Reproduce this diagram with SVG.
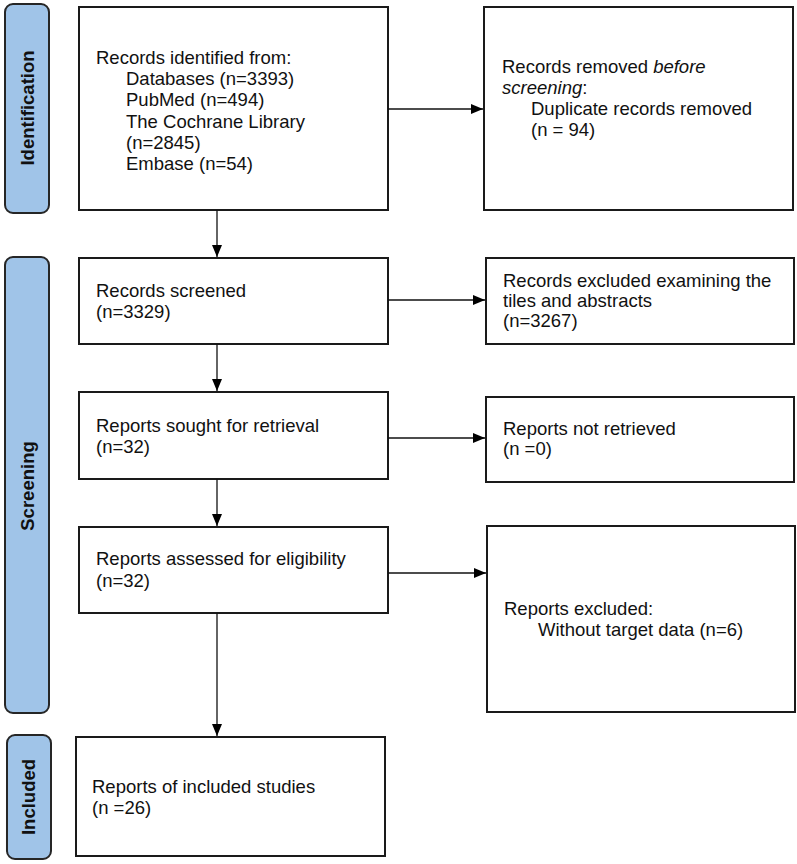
<svg xmlns="http://www.w3.org/2000/svg" width="797" height="864" viewBox="0 0 797 864">
<defs>
<marker id="arr" viewBox="0 0 12 10" refX="12" refY="5" markerWidth="12" markerHeight="10" markerUnits="userSpaceOnUse" orient="auto">
<path d="M0,0 L12,5 L0,10 Z" fill="#000"/>
</marker>
</defs>
<style>
.box{fill:#fff;stroke:#1a1a1a;stroke-width:2}
.tab{fill:#a0c4e8;stroke:#262626;stroke-width:2}
.t{font-family:"Liberation Sans",Arial,sans-serif;font-size:18.5px;fill:#111}
.tt{font-family:"Liberation Sans",Arial,sans-serif;font-size:18.5px;font-weight:bold;fill:#111}
.c{stroke:#111;stroke-width:1.3;fill:none;marker-end:url(#arr)}
</style>
<rect width="797" height="864" fill="#fff"/>
<g id="tab-identification">
<rect class="tab" x="5" y="4" width="44" height="209" rx="8"/>
<text class="tt" transform="translate(34,108) rotate(-90)" text-anchor="middle">Identification</text>
</g>
<g id="tab-screening">
<rect class="tab" x="5" y="257" width="44" height="456" rx="8"/>
<text class="tt" transform="translate(34,486) rotate(-90)" text-anchor="middle">Screening</text>
</g>
<g id="tab-included">
<rect class="tab" x="7" y="735" width="44" height="124" rx="8"/>
<text class="tt" transform="translate(35,797) rotate(-90)" text-anchor="middle">Included</text>
</g>
<g id="identified">
<rect class="box" x="79" y="7" width="309" height="203"/>
<text class="t" x="96" y="63.5">Records identified from:</text>
<text class="t" x="126" y="85">Databases (n=3393)</text>
<text class="t" x="126" y="106">PubMed (n=494)</text>
<text class="t" x="126" y="127.5">The Cochrane Library</text>
<text class="t" x="126" y="149">(n=2845)</text>
<text class="t" x="126" y="170">Embase (n=54)</text>
</g>
<g id="removed">
<rect class="box" x="484" y="7" width="309" height="203"/>
<text class="t" x="502" y="73">Records removed <tspan font-style="italic">before</tspan></text>
<text class="t" x="502" y="94"><tspan font-style="italic">screening</tspan>:</text>
<text class="t" x="531" y="115">Duplicate records removed</text>
<text class="t" x="531" y="136">(n = 94)</text>
</g>
<g id="screened">
<rect class="box" x="79" y="258" width="309" height="86"/>
<text class="t" x="96" y="297">Records screened</text>
<text class="t" x="96" y="318">(n=3329)</text>
</g>
<g id="excluded-ta">
<rect class="box" x="486" y="258" width="308" height="86"/>
<text class="t" x="503" y="287">Records excluded examining the</text>
<text class="t" x="503" y="307">tiles and abstracts</text>
<text class="t" x="503" y="327">(n=3267)</text>
</g>
<g id="sought">
<rect class="box" x="79" y="392" width="309" height="87"/>
<text class="t" x="96" y="432">Reports sought for retrieval</text>
<text class="t" x="96" y="453">(n=32)</text>
</g>
<g id="not-retrieved">
<rect class="box" x="486" y="397" width="308" height="85"/>
<text class="t" x="503" y="435">Reports not retrieved</text>
<text class="t" x="503" y="455">(n =0)</text>
</g>
<g id="assessed">
<rect class="box" x="79" y="527" width="309" height="86"/>
<text class="t" x="96" y="565">Reports assessed for eligibility</text>
<text class="t" x="96" y="587">(n=32)</text>
</g>
<g id="reports-excluded">
<rect class="box" x="487" y="526" width="308" height="186"/>
<text class="t" x="504" y="615">Reports excluded:</text>
<text class="t" x="538" y="636">Without target data (n=6)</text>
</g>
<g id="included">
<rect class="box" x="76" y="737" width="309" height="119"/>
<text class="t" x="92" y="793">Reports of included studies</text>
<text class="t" x="92" y="814">(n =26)</text>
</g>
<g id="connectors">
<line class="c" x1="217" y1="210" x2="217" y2="257"/>
<line class="c" x1="388" y1="109" x2="483" y2="109"/>
<line class="c" x1="217" y1="344" x2="217" y2="391"/>
<line class="c" x1="388" y1="300" x2="485" y2="300"/>
<line class="c" x1="217" y1="479" x2="217" y2="526"/>
<line class="c" x1="388" y1="438" x2="485" y2="438"/>
<line class="c" x1="217" y1="613" x2="217" y2="736"/>
<line class="c" x1="388" y1="573" x2="486" y2="573"/>
</g>
</svg>
